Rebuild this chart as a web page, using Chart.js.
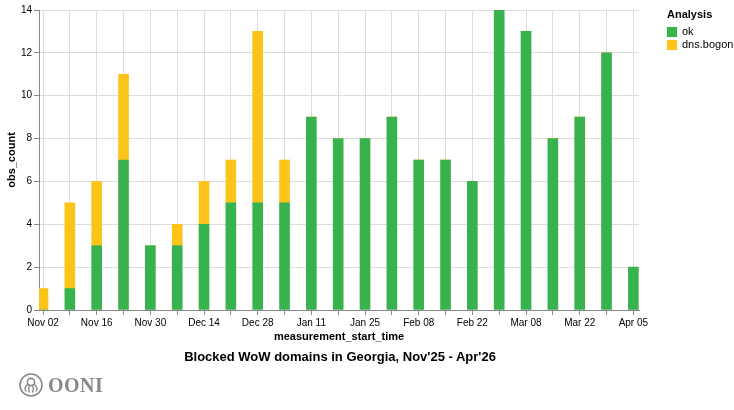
<!DOCTYPE html>
<html>
<head>
<meta charset="utf-8">
<script src="https://cdn.jsdelivr.net/npm/chart.js@4.4.1/dist/chart.umd.min.js"></script>
<style>
  html, body { margin: 0; padding: 0; background: #fff; }
  body { font-family: 'Liberation Sans', Arial, Helvetica, sans-serif; }
  #wrap { position: relative; width: 734px; height: 410px; }
  #title {
    position: absolute; left: 0; top: 349px; width: 680px;
    text-align: center; font-size: 13px; font-weight: bold; color: #000;
  }
  #legend { position: absolute; left: 667px; top: 8px; font-size: 11px; color: #000; }
  #legend .head { font-weight: bold; margin-bottom: 5px; }
  #legend .item { height: 13px; line-height: 13px; display: flex; align-items: center; }
  #legend .sw { width: 10px; height: 10px; margin-right: 5px; }
  #logo { position: absolute; left: 19px; top: 373px; display: flex; align-items: center; color: #888; }
  #logo span { font-family: 'Liberation Serif', 'DejaVu Serif', serif; font-weight: bold; font-size: 20px; margin-left: 5px; letter-spacing: 0.5px; }
</style>
</head>
<body>
<div id="wrap">
  <canvas id="obsChart"></canvas>
  <div id="title">Blocked WoW domains in Georgia, Nov'25 - Apr'26</div>
  <div id="legend">
    <div class="head">Analysis</div>
    <div class="item"><div class="sw" style="background:#37b24d"></div>ok</div>
    <div class="item"><div class="sw" style="background:#fcc419"></div>dns.bogon</div>
  </div>
  <div id="logo">
    <svg width="24" height="24" viewBox="0 0 24 24">
      <circle cx="12" cy="12" r="11" fill="none" stroke="#888" stroke-width="1.6"/>
      <circle cx="12" cy="9" r="3.6" fill="none" stroke="#888" stroke-width="1.6"/>
      <path d="M8.5 11.5 C6 14 5 16 7 18 M10.5 12.5 C9.5 15 9 17 10.5 19 M13.5 12.5 C14.5 15 15 17 13.5 19 M15.5 11.5 C18 14 19 16 17 18"
            fill="none" stroke="#888" stroke-width="1.4" stroke-linecap="round"/>
    </svg>
    <span>OONI</span>
  </div>
</div>
<script>
const weeks = ['Nov 02', 'Nov 09', 'Nov 16', 'Nov 23', 'Nov 30', 'Dec 07', 'Dec 14', 'Dec 21',
  'Dec 28', 'Jan 04', 'Jan 11', 'Jan 18', 'Jan 25', 'Feb 01', 'Feb 08', 'Feb 15', 'Feb 22',
  'Mar 01', 'Mar 08', 'Mar 15', 'Mar 22', 'Mar 29', 'Apr 05'];
const okCounts = [0, 1, 3, 7, 3, 3, 4, 5, 5, 5, 9, 8, 8, 9, 7, 7, 6, 14, 13, 8, 9, 12, 2];
const bogonCounts = [1, 4, 3, 4, 0, 1, 2, 2, 8, 2, 0, 0, 0, 0, 0, 0, 0, 0, 0, 0, 0, 0, 0];
const xTickLabels = ['Nov 02', '', 'Nov 16', '', 'Nov 30', '', 'Dec 14', '', 'Dec 28', '',
  'Jan 11', '', 'Jan 25', '', 'Feb 08', '', 'Feb 22', '', 'Mar 08', '', 'Mar 22', '', 'Apr 05'];
const yTicks = [0, 2, 4, 6, 8, 10, 12, 14];

Chart.defaults.font.family = "'Liberation Sans', Arial, Helvetica, sans-serif";
Chart.defaults.color = '#000';

function points(values) {
  return values.map((v, i) => ({ x: i, y: v }));
}

const ctx = document.getElementById('obsChart');

new Chart(ctx, {
  type: 'bar',
  data: {
    datasets: [{
      label: 'ok',
      data: points(okCounts),
      backgroundColor: '#37b24d',
      barThickness: 10
    }, {
      label: 'dns.bogon',
      data: points(bogonCounts),
      backgroundColor: '#fcc419',
      barThickness: 10
    }]
  },
  options: {
    responsive: true,
    maintainAspectRatio: false,
    animation: false,
    layout: { padding: { top: 10, right: 95, bottom: 66, left: 0 } },
    plugins: {
      legend: { display: false },
      tooltip: { enabled: false }
    },
    scales: {
      x: {
        type: 'linear',
        stacked: true,
        offset: false,
        min: -0.15,
        max: 22.21,
        afterBuildTicks: scale => {
          scale.ticks = weeks.map((_, i) => ({ value: i }));
        },
        afterFit: scale => { scale.height = 34; },
        grid: { color: '#ddd', tickColor: '#888', tickLength: 5, offset: false },
        border: { color: '#888' },
        ticks: {
          autoSkip: false,
          maxRotation: 0,
          padding: 2,
          font: { size: 10 },
          callback: value => xTickLabels[value] ?? ''
        },
        title: {
          display: true,
          text: 'measurement_start_time',
          font: { size: 11, weight: 'bold' },
          padding: 0
        }
      },
      y: {
        stacked: true,
        min: 0,
        max: 14,
        afterBuildTicks: scale => {
          scale.ticks = yTicks.map(v => ({ value: v }));
        },
        afterFit: scale => { scale.width = 39; },
        grid: { color: '#ddd', tickColor: '#888', tickLength: 5 },
        border: { color: '#888' },
        ticks: { padding: 2, font: { size: 10 } },
        title: {
          display: true,
          text: 'obs_count',
          font: { size: 11, weight: 'bold' },
          padding: { top: 5, bottom: 0 }
        }
      }
    }
  }
});
</script>
</body>
</html>
